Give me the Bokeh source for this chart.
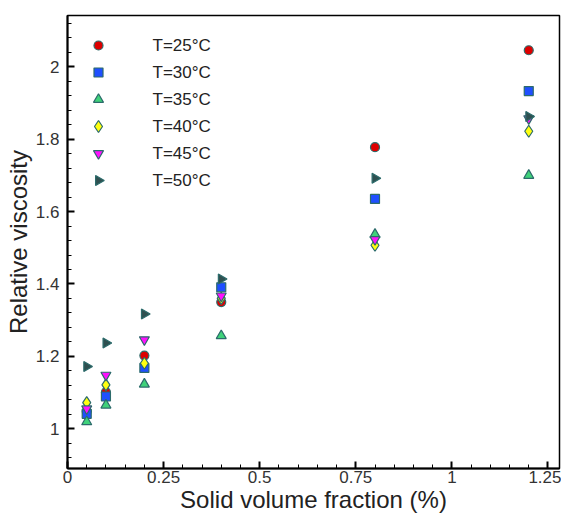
import math
from bokeh.plotting import figure
from bokeh.models import Range1d, FixedTicker, LinearAxis
from bokeh.core.properties import value
from bokeh.embed import file_html
from bokeh.resources import INLINE

phi = [0.05, 0.1, 0.2, 0.4, 0.8, 1.2]
labels = ["T=25°C", "T=30°C", "T=35°C", "T=40°C", "T=45°C", "T=50°C"]
mu_25 = [1.048, 1.101, 1.202, 1.350, 1.778, 2.046]
mu_30 = [1.041, 1.089, 1.168, 1.391, 1.635, 1.933]
mu_35 = [1.019, 1.065, 1.123, 1.257, 1.537, 1.700]
mu_40 = [1.072, 1.121, 1.181, 1.360, 1.507, 1.822]
mu_45 = [1.055, 1.148, 1.246, 1.367, 1.523, 1.857]
mu_50 = [1.172, 1.237, 1.317, 1.414, 1.692, 1.863]
x_ticks = [0, 0.25, 0.5, 0.75, 1, 1.25]
y_ticks = [1, 1.2, 1.4, 1.6, 1.8, 2]

series = [mu_25, mu_30, mu_35, mu_40, mu_45, mu_50]
markers = ["circle", "square", "triangle", "diamond", "inverted_triangle", "triangle"]
angles = [0, 0, 0, 0, 0, -math.pi / 2]
fills = ["#dd0000", "#1f4fff", "#3fd27a", "#ffff10", "#ff10ff", "#2f5050"]
sizes = [9, 9, 10, 12, 10, 10]

W, H = 561, 515
BL, BR, BT, BB = 67, 2, 15, 47
FW, FH = W - BL - BR, H - BT - BB

p = figure(width=W, height=H, output_backend="svg", toolbar_location=None,
           x_range=Range1d(0, 1.28), y_range=Range1d(0.89, 2.142),
           min_border_left=BL, min_border_right=BR, min_border_top=BT, min_border_bottom=BB)
p.grid.visible = False
p.outline_line_color = "black"
p.outline_line_width = 1.5

# legend drawn in frame-pixel coordinates (layout only)
p.extra_x_ranges["leg"] = Range1d(0, FW)
p.extra_y_ranges["leg"] = Range1d(0, FH)
LEG_GX, LEG_TX, LEG_TOP, LEG_STEP = 31, 85, 30, 27

for i, (ys, lab, m, a, fc, s) in enumerate(zip(series, labels, markers, angles, fills, sizes)):
    p.scatter(phi, ys, marker=m, angle=a, size=s, fill_color=fc,
              line_color="#2c6b6b", line_width=1.2)
    ly = FH - LEG_TOP - i * LEG_STEP
    p.scatter([LEG_GX], [ly], marker=m, angle=a, size=s, fill_color=fc,
              line_color="#2c6b6b", line_width=1.2,
              x_range_name="leg", y_range_name="leg")
    p.text([LEG_TX], [ly], text=[lab], text_font=value("Liberation Sans"),
           text_font_size="17px", text_color="#222222", text_baseline="middle",
           text_align="left", x_range_name="leg", y_range_name="leg")

for ax in (p.xaxis[0], p.yaxis[0]):
    ax.axis_line_width = 2
    ax.major_tick_in = 7
    ax.major_tick_out = 0
    ax.minor_tick_in = 4
    ax.minor_tick_out = 0
    ax.major_tick_line_width = 2
    ax.major_label_text_font = "Liberation Sans"
    ax.major_label_text_font_size = "17px"
    ax.major_label_text_color = "#333333"
    ax.axis_label_text_font = "Liberation Sans"
    ax.axis_label_text_font_size = "24px"
    ax.axis_label_text_font_style = "normal"
    ax.axis_label_text_color = "#222222"

p.xaxis.ticker = FixedTicker(ticks=x_ticks, minor_ticks=[i * 0.05 for i in range(26)])
p.yaxis.ticker = FixedTicker(ticks=y_ticks, minor_ticks=[0.92 + i * 0.04 for i in range(31)])
p.xaxis.major_label_overrides = {0: "0", 1: "1"}
p.yaxis.major_label_overrides = {1: "1", 2: "2"}
p.xaxis.axis_label = "Solid volume fraction (%)"
p.yaxis.axis_label = "Relative viscosity"
p.xaxis.major_label_standoff = 2
p.yaxis.major_label_standoff = 8
p.xaxis.axis_label_standoff = 0
p.yaxis.axis_label_standoff = 1

open("out.html", "w").write(file_html(p, INLINE))
